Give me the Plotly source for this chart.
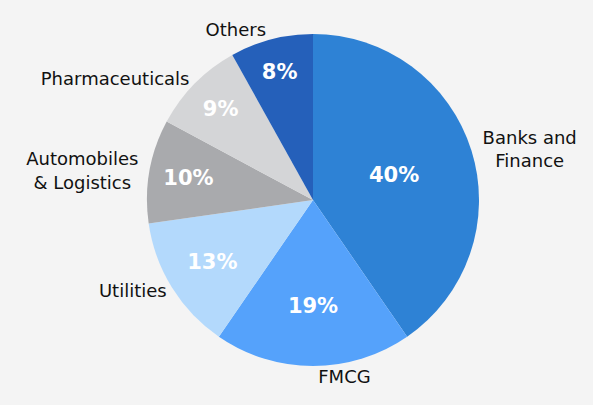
import plotly.graph_objects as go

categories = ["Banks and<br>Finance", "FMCG", "Utilities", "Automobiles<br>& Logistics", "Pharmaceuticals", "Others"]
shares = [40, 19, 13, 10, 9, 8]
colors = ["#2E82D5", "#55A2FB", "#B3D9FC", "#A9AAAD", "#D4D5D7", "#2560BA"]

W, H = 593, 405
cx, cy, r = 313, 200, 166
dom_x = [(cx - r) / W, (cx + r) / W]
dom_y = [(H - cy - r) / H, (H - cy + r) / H]

fig = go.Figure()
fig.add_trace(go.Pie(
    labels=categories, values=shares, sort=False, direction="clockwise", rotation=0,
    marker=dict(colors=colors, line=dict(width=0)),
    texttemplate="%{value}%", textposition="inside", insidetextorientation="horizontal",
    textfont=dict(family="DejaVu Sans", size=21, color="white", weight="bold"),
    domain=dict(x=dom_x, y=dom_y), hoverinfo="label+value", showlegend=False,
))
fig.add_trace(go.Pie(
    labels=categories, values=shares, sort=False, direction="clockwise", rotation=0,
    marker=dict(colors=["rgba(0,0,0,0)"] * len(shares), line=dict(width=0)),
    texttemplate="%{label}", textposition="outside",
    outsidetextfont=dict(family="DejaVu Sans", size=18, color="#111111"),
    domain=dict(x=dom_x, y=dom_y), hoverinfo="skip", showlegend=False,
))
fig.update_layout(
    width=W, height=H, margin=dict(l=0, r=0, t=0, b=0),
    paper_bgcolor="#F4F4F4", plot_bgcolor="#F4F4F4",
)
fig.write_html("out.html", config={"displayModeBar": False},
               post_script="document.body.style.margin='0';document.body.style.background='#F4F4F4';")
